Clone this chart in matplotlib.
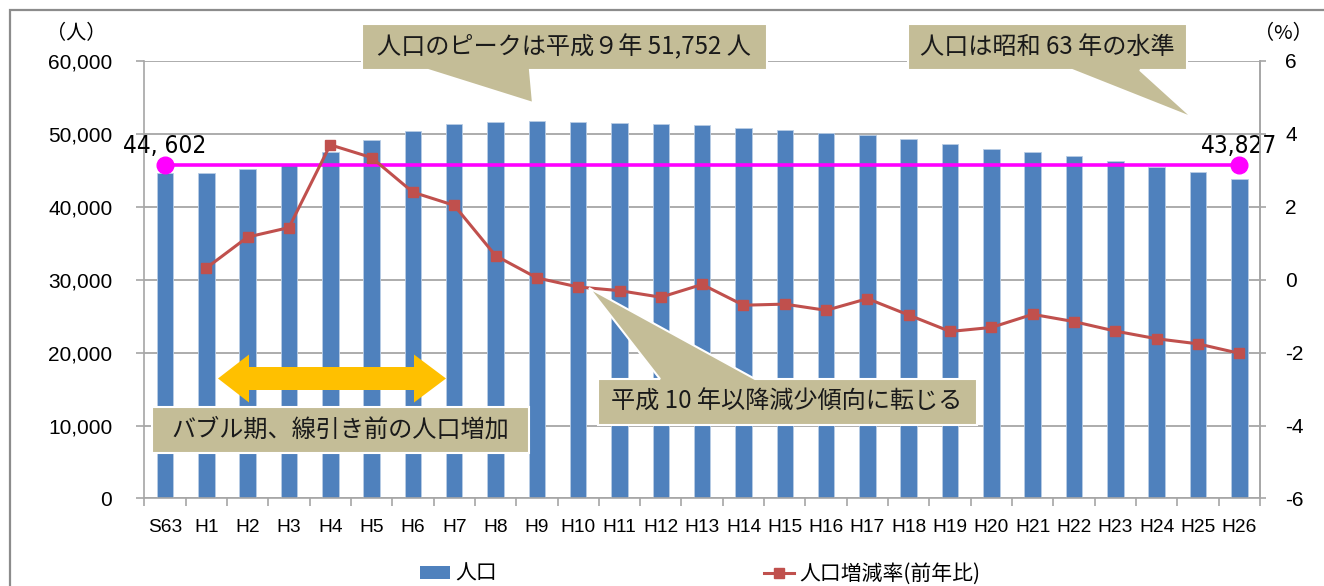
import matplotlib
matplotlib.use("Agg")
import matplotlib.pyplot as plt
import numpy as np
from matplotlib.patches import Polygon, Rectangle, Patch
from matplotlib.lines import Line2D
from matplotlib.ticker import FuncFormatter, FixedLocator
import matplotlib.transforms as mtransforms

plt.rcParams['font.family'] = ['Liberation Sans', 'Noto Sans CJK JP', 'DejaVu Sans']

# ---------------- data ----------------
categories = ["S63", "H1", "H2", "H3", "H4", "H5", "H6", "H7", "H8", "H9", "H10",
              "H11", "H12", "H13", "H14", "H15", "H16", "H17", "H18", "H19", "H20",
              "H21", "H22", "H23", "H24", "H25", "H26"]
population = [44602, 44680, 45230, 45870, 47560, 49160, 50360, 51400, 51700, 51752, 51630,
              51500, 51310, 51220, 50860, 50540, 50130, 49800, 49310, 48630, 47980,
              47530, 47020, 46290, 45500, 44770, 43827]
# year-on-year change rate (%), starts at H1
change_rate = [0.32, 1.17, 1.43, 3.70, 3.35, 2.40, 2.04, 0.66, 0.05, -0.20,
               -0.30, -0.48, -0.13, -0.70, -0.67, -0.84, -0.52, -0.97, -1.42, -1.31,
               -0.95, -1.15, -1.41, -1.62, -1.76, -2.02]
left_ticks = [0, 10000, 20000, 30000, 40000, 50000, 60000]
right_ticks = [-6, -4, -2, 0, 2, 4, 6]
start_label = "44, 602"
end_label = "43,827"
series_names = ["人口", "人口増減率(前年比)"]
note_peak = "人口のピークは平成９年 51,752 人"
note_level = "人口は昭和 63 年の水準"
note_decline = "平成 10 年以降減少傾向に転じる"
note_bubble = "バブル期、線引き前の人口増加"

# ---------------- figure ----------------
W, H = 1324, 586
fig = plt.figure(figsize=(W / 100, H / 100), dpi=100)
fig.patch.set_facecolor("white")

def fx(px):
    return px / W

def fy(py):
    return 1 - py / H

def pts(lst):
    return [(fx(a), fy(b)) for a, b in lst]

ax_left, ax_right, ax_top, ax_bottom = 144.3, 1260, 61, 498.4
ax = fig.add_axes([fx(ax_left), fy(ax_bottom), fx(ax_right - ax_left), (ax_bottom - ax_top) / H])
x = np.arange(len(categories))

grid_c = "#A6A6A6"
ax.bar(x, population, width=0.4, color="#4F81BD", edgecolor="#B9CDE5", linewidth=0.6, zorder=2)
ax.set_xlim(-0.5, len(categories) - 0.5)
ax.set_ylim(left_ticks[0], left_ticks[-1])
ax.set_yticks(left_ticks)
ax.yaxis.set_major_formatter(FuncFormatter(lambda v, p: f"{int(v):,}"))
ax.grid(axis="y", color=grid_c, linewidth=1.3, zorder=0)
ax.set_axisbelow(True)
ax.spines["top"].set_visible(False)
for s in ["left", "bottom", "right"]:
    ax.spines[s].set_color(grid_c)
    ax.spines[s].set_linewidth(1.2)
ax.set_xticks(x)
ax.set_xticklabels(categories)
ax.xaxis.set_minor_locator(FixedLocator(np.arange(-0.5, len(categories), 1.0)))
ax.tick_params(axis="x", which="major", length=0, pad=15, labelsize=13.8)
ax.tick_params(axis="x", which="minor", length=6, color=grid_c, width=1.2, direction="out")
ax.tick_params(axis="y", length=6, color=grid_c, width=1.2, pad=17, labelsize=15)

ax2 = ax.twinx()
ax2.set_ylim(right_ticks[0], right_ticks[-1])
ax2.set_yticks(right_ticks)
ax2.yaxis.set_major_formatter(FuncFormatter(lambda v, p: f"{int(v)}"))
ax2.tick_params(axis="y", length=4, color=grid_c, width=1.2, pad=14, labelsize=15)
for s in ["top", "left", "bottom"]:
    ax2.spines[s].set_visible(False)
ax2.spines["right"].set_color(grid_c)
ax2.spines["right"].set_linewidth(1.2)
ax2.plot(x[1:], change_rate, color="#C0504D", linewidth=2.2, marker="s", markersize=6.5,
         markerfacecolor="#C0504D", markeredgecolor="#C0504D", zorder=3)

# magenta reference line (S63 level)
off = mtransforms.ScaledTranslation(0, 0.08, fig.dpi_scale_trans)
ax.plot([x[0], x[-1]], [population[0], population[0]], color="#FF00FF",
        linewidth=2.6, transform=ax.transData + off, zorder=4, clip_on=False)
ax.plot([x[0], x[-1]], [population[0], population[0]], linestyle="none", marker="o",
        markersize=12, color="#FF00FF", transform=ax.transData + off, zorder=5, clip_on=False)
num_font = ['DejaVu Sans']
for lab, xi in [(start_label, x[0]), (end_label, x[-1])]:
    ax.annotate(lab, xy=(xi, population[0]), xytext=(0, 14.4), textcoords="offset points",
                ha="center", va="baseline", fontsize=17.5, family=num_font,
                fontstretch="condensed", zorder=6)

# unit labels
cjk = ['Noto Sans CJK JP', 'DejaVu Sans']
fig.text(fx(76), fy(34), "（人）", ha="center", va="center", fontsize=14.5, family=cjk)
fig.text(fx(1283), fy(34), "（%）", ha="center", va="center", fontsize=14.5, family=cjk)

# callouts
tan = "#C4BD97"

def callout(poly, text, cx, cy):
    p = Polygon(pts(poly), closed=True, transform=fig.transFigure, facecolor=tan,
                edgecolor="white", linewidth=1.5, zorder=10)
    fig.add_artist(p)
    fig.text(fx(cx), fy(cy), text, ha="center", va="center", fontsize=17.4, family=cjk,
             color="#1A1A1A", zorder=11)

callout([(362, 24), (767, 24), (767, 70), (530, 70), (533, 103), (428, 70), (362, 70)],
        note_peak, 564, 47)
callout([(908, 24), (1187, 24), (1187, 70), (1140, 70), (1193, 118), (1072, 70), (908, 70)],
        note_level, 1047, 47)
callout([(598, 379), (660, 379), (589, 288), (755, 379), (977, 379), (977, 425), (598, 425)],
        note_decline, 787, 402)
callout([(152, 407), (529, 407), (529, 453), (152, 453)], note_bubble, 340, 430)

# orange double arrow
cy_a = 378.5
arrow = [(218, cy_a), (249, cy_a - 24), (249, cy_a - 11.5), (414, cy_a - 11.5), (414, cy_a - 24),
         (446, cy_a), (414, cy_a + 24), (414, cy_a + 11.5), (249, cy_a + 11.5), (249, cy_a + 24)]
fig.add_artist(Polygon(pts(arrow), closed=True, transform=fig.transFigure, facecolor="#FFC000",
                       edgecolor="none", zorder=9))

# outer frame
fig.add_artist(Rectangle((fx(10), fy(H + 20)), fx(W + 20), (H + 10) / H, transform=fig.transFigure,
                         facecolor="none", edgecolor="#8C8C8C", linewidth=1.6, zorder=20))

# legend
handles = [Patch(facecolor="#4F81BD", edgecolor="none"),
           Line2D([0], [0], color="#C0504D", linewidth=2.2, marker="s", markersize=6.5)]
fig.legend(handles, series_names, loc="center left", bbox_to_anchor=(fx(420), fy(574)),
           ncol=2, frameon=False, borderpad=0, borderaxespad=0, handlelength=1.45,
           handleheight=0.58, handletextpad=0.25, columnspacing=12.8,
           prop={"family": cjk, "size": 15})

fig.savefig("out.png", dpi=100)
